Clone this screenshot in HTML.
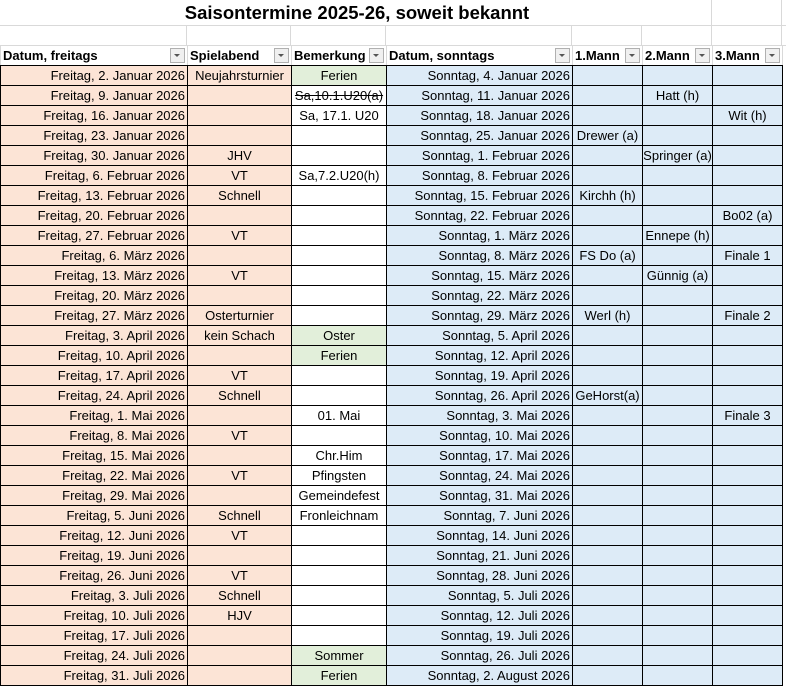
<!DOCTYPE html>
<html><head><meta charset="utf-8"><style>
body{margin:0;width:786px;height:686px;overflow:hidden;background:#fff;font-family:"Liberation Sans",sans-serif;}
.title{position:absolute;left:0;top:0;width:786px;height:25px;border-bottom:1px solid #d9d9d9;}
.title span{position:absolute;left:184px;top:2px;width:346px;text-align:center;font-weight:bold;font-size:18.5px;color:#000;white-space:nowrap}
.r2{position:absolute;left:0;top:25px;width:786px;height:20px;border-bottom:1px solid #d9d9d9;}
.vl{position:absolute;width:1px;background:#d9d9d9}
table{position:absolute;left:0;top:45px;border-collapse:collapse;table-layout:fixed;font-size:13px;}
td{height:19px;padding:0 2px;border:1px solid #000;white-space:nowrap;overflow:hidden;line-height:19px;}
tr.h td{border:1px solid #d9d9d9;border-bottom:1px solid #000;font-weight:bold;background:#fff;position:relative;height:19px}
.fb{position:absolute;right:2px;top:2px;width:15px;height:15px;border:1px solid #b0b0b0;background:#f0f0f0;box-sizing:border-box}
.fb:after{content:"";position:absolute;left:3px;top:5px;border-left:3px solid transparent;border-right:3px solid transparent;border-top:3px solid #555}
.a{background:#fce4d6;text-align:right}
.b{background:#fce4d6;text-align:center}
.c{background:#fff;text-align:center}
.g{background:#e2efda;text-align:center}
.d{background:#ddebf7;text-align:right}
.e{background:#ddebf7;text-align:center;font-size:13px;padding:0}
s{text-decoration:line-through}
</style></head><body>
<div class="title"><span>Saisontermine 2025-26, soweit bekannt</span></div>
<div class="r2"></div>
<div class="vl" style="left:711px;top:0;height:45px"></div>
<div class="vl" style="left:781px;top:0;height:686px"></div>
<div class="vl" style="left:186px;top:25px;height:20px"></div>
<div class="vl" style="left:290px;top:25px;height:20px"></div>
<div class="vl" style="left:385px;top:25px;height:20px"></div>
<div class="vl" style="left:571px;top:25px;height:20px"></div>
<div class="vl" style="left:641px;top:25px;height:20px"></div>
<table>
<colgroup><col style="width:187px"><col style="width:104px"><col style="width:95px"><col style="width:186px"><col style="width:70px"><col style="width:70px"><col style="width:70px"></colgroup>
<tr class="h"><td>Datum, freitags<span class="fb"></span></td><td>Spielabend<span class="fb"></span></td><td>Bemerkung<span class="fb"></span></td><td>Datum, sonntags<span class="fb"></span></td><td>1.Mann<span class="fb"></span></td><td>2.Mann<span class="fb"></span></td><td>3.Mann<span class="fb"></span></td></tr>
<tr><td class="a">Freitag, 2. Januar 2026</td><td class="b">Neujahrsturnier</td><td class="g">Ferien</td><td class="d">Sonntag, 4. Januar 2026</td><td class="e"></td><td class="e"></td><td class="e"></td></tr>
<tr><td class="a">Freitag, 9. Januar 2026</td><td class="b"></td><td class="c"><s>Sa,10.1.U20(a)</s></td><td class="d">Sonntag, 11. Januar 2026</td><td class="e"></td><td class="e">Hatt (h)</td><td class="e"></td></tr>
<tr><td class="a">Freitag, 16. Januar 2026</td><td class="b"></td><td class="c">Sa, 17.1. U20</td><td class="d">Sonntag, 18. Januar 2026</td><td class="e"></td><td class="e"></td><td class="e">Wit (h)</td></tr>
<tr><td class="a">Freitag, 23. Januar 2026</td><td class="b"></td><td class="c"></td><td class="d">Sonntag, 25. Januar 2026</td><td class="e">Drewer (a)</td><td class="e"></td><td class="e"></td></tr>
<tr><td class="a">Freitag, 30. Januar 2026</td><td class="b">JHV</td><td class="c"></td><td class="d">Sonntag, 1. Februar 2026</td><td class="e"></td><td class="e">Springer (a)</td><td class="e"></td></tr>
<tr><td class="a">Freitag, 6. Februar 2026</td><td class="b">VT</td><td class="c">Sa,7.2.U20(h)</td><td class="d">Sonntag, 8. Februar 2026</td><td class="e"></td><td class="e"></td><td class="e"></td></tr>
<tr><td class="a">Freitag, 13. Februar 2026</td><td class="b">Schnell</td><td class="c"></td><td class="d">Sonntag, 15. Februar 2026</td><td class="e">Kirchh (h)</td><td class="e"></td><td class="e"></td></tr>
<tr><td class="a">Freitag, 20. Februar 2026</td><td class="b"></td><td class="c"></td><td class="d">Sonntag, 22. Februar 2026</td><td class="e"></td><td class="e"></td><td class="e">Bo02 (a)</td></tr>
<tr><td class="a">Freitag, 27. Februar 2026</td><td class="b">VT</td><td class="c"></td><td class="d">Sonntag, 1. März 2026</td><td class="e"></td><td class="e">Ennepe (h)</td><td class="e"></td></tr>
<tr><td class="a">Freitag, 6. März 2026</td><td class="b"></td><td class="c"></td><td class="d">Sonntag, 8. März 2026</td><td class="e">FS Do (a)</td><td class="e"></td><td class="e">Finale 1</td></tr>
<tr><td class="a">Freitag, 13. März 2026</td><td class="b">VT</td><td class="c"></td><td class="d">Sonntag, 15. März 2026</td><td class="e"></td><td class="e">Günnig (a)</td><td class="e"></td></tr>
<tr><td class="a">Freitag, 20. März 2026</td><td class="b"></td><td class="c"></td><td class="d">Sonntag, 22. März 2026</td><td class="e"></td><td class="e"></td><td class="e"></td></tr>
<tr><td class="a">Freitag, 27. März 2026</td><td class="b">Osterturnier</td><td class="c"></td><td class="d">Sonntag, 29. März 2026</td><td class="e">Werl (h)</td><td class="e"></td><td class="e">Finale 2</td></tr>
<tr><td class="a">Freitag, 3. April 2026</td><td class="b">kein Schach</td><td class="g">Oster</td><td class="d">Sonntag, 5. April 2026</td><td class="e"></td><td class="e"></td><td class="e"></td></tr>
<tr><td class="a">Freitag, 10. April 2026</td><td class="b"></td><td class="g">Ferien</td><td class="d">Sonntag, 12. April 2026</td><td class="e"></td><td class="e"></td><td class="e"></td></tr>
<tr><td class="a">Freitag, 17. April 2026</td><td class="b">VT</td><td class="c"></td><td class="d">Sonntag, 19. April 2026</td><td class="e"></td><td class="e"></td><td class="e"></td></tr>
<tr><td class="a">Freitag, 24. April 2026</td><td class="b">Schnell</td><td class="c"></td><td class="d">Sonntag, 26. April 2026</td><td class="e">GeHorst(a)</td><td class="e"></td><td class="e"></td></tr>
<tr><td class="a">Freitag, 1. Mai 2026</td><td class="b"></td><td class="c">01. Mai</td><td class="d">Sonntag, 3. Mai 2026</td><td class="e"></td><td class="e"></td><td class="e">Finale 3</td></tr>
<tr><td class="a">Freitag, 8. Mai 2026</td><td class="b">VT</td><td class="c"></td><td class="d">Sonntag, 10. Mai 2026</td><td class="e"></td><td class="e"></td><td class="e"></td></tr>
<tr><td class="a">Freitag, 15. Mai 2026</td><td class="b"></td><td class="c">Chr.Him</td><td class="d">Sonntag, 17. Mai 2026</td><td class="e"></td><td class="e"></td><td class="e"></td></tr>
<tr><td class="a">Freitag, 22. Mai 2026</td><td class="b">VT</td><td class="c">Pfingsten</td><td class="d">Sonntag, 24. Mai 2026</td><td class="e"></td><td class="e"></td><td class="e"></td></tr>
<tr><td class="a">Freitag, 29. Mai 2026</td><td class="b"></td><td class="c">Gemeindefest</td><td class="d">Sonntag, 31. Mai 2026</td><td class="e"></td><td class="e"></td><td class="e"></td></tr>
<tr><td class="a">Freitag, 5. Juni 2026</td><td class="b">Schnell</td><td class="c">Fronleichnam</td><td class="d">Sonntag, 7. Juni 2026</td><td class="e"></td><td class="e"></td><td class="e"></td></tr>
<tr><td class="a">Freitag, 12. Juni 2026</td><td class="b">VT</td><td class="c"></td><td class="d">Sonntag, 14. Juni 2026</td><td class="e"></td><td class="e"></td><td class="e"></td></tr>
<tr><td class="a">Freitag, 19. Juni 2026</td><td class="b"></td><td class="c"></td><td class="d">Sonntag, 21. Juni 2026</td><td class="e"></td><td class="e"></td><td class="e"></td></tr>
<tr><td class="a">Freitag, 26. Juni 2026</td><td class="b">VT</td><td class="c"></td><td class="d">Sonntag, 28. Juni 2026</td><td class="e"></td><td class="e"></td><td class="e"></td></tr>
<tr><td class="a">Freitag, 3. Juli 2026</td><td class="b">Schnell</td><td class="c"></td><td class="d">Sonntag, 5. Juli 2026</td><td class="e"></td><td class="e"></td><td class="e"></td></tr>
<tr><td class="a">Freitag, 10. Juli 2026</td><td class="b">HJV</td><td class="c"></td><td class="d">Sonntag, 12. Juli 2026</td><td class="e"></td><td class="e"></td><td class="e"></td></tr>
<tr><td class="a">Freitag, 17. Juli 2026</td><td class="b"></td><td class="c"></td><td class="d">Sonntag, 19. Juli 2026</td><td class="e"></td><td class="e"></td><td class="e"></td></tr>
<tr><td class="a">Freitag, 24. Juli 2026</td><td class="b"></td><td class="g">Sommer</td><td class="d">Sonntag, 26. Juli 2026</td><td class="e"></td><td class="e"></td><td class="e"></td></tr>
<tr><td class="a">Freitag, 31. Juli 2026</td><td class="b"></td><td class="g">Ferien</td><td class="d">Sonntag, 2. August 2026</td><td class="e"></td><td class="e"></td><td class="e"></td></tr>
</table>
</body></html>
